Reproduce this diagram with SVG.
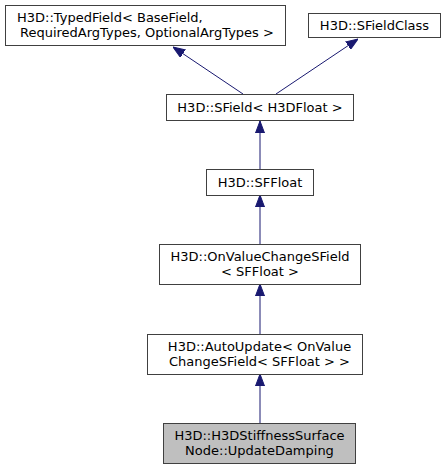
<svg xmlns="http://www.w3.org/2000/svg" width="445" height="469" viewBox="0 0 445 469">
<style>
.box{fill:#ffffff;stroke:#404040;stroke-width:1}
.root{fill:#bfbfbf;stroke:#404040;stroke-width:1}
text{font-family:"DejaVu Sans",sans-serif;font-size:13px;fill:#000000}
.c{text-anchor:middle}
.edge{stroke:#191970;stroke-width:1;fill:none}
</style>
<defs>
<marker id="ah" markerUnits="userSpaceOnUse" markerWidth="12" markerHeight="10" refX="12" refY="5" orient="auto">
<path d="M0,0.5 L12,5 L0,9.5 z" fill="#191970" stroke="#191970" stroke-width="1"/>
</marker>
</defs>
<rect width="445" height="469" fill="#ffffff"/>
<g id="connectors">
<path class="edge" d="M243,94 L173,47" marker-end="url(#ah)"/>
<path class="edge" d="M276,94 L358,39" marker-end="url(#ah)"/>
<path class="edge" d="M260,169 L260,121" marker-end="url(#ah)"/>
<path class="edge" d="M260,244 L260,195" marker-end="url(#ah)"/>
<path class="edge" d="M260,334 L260,284" marker-end="url(#ah)"/>
<path class="edge" d="M260,423 L260,374" marker-end="url(#ah)"/>
</g>
<g id="node-typedfield">
<rect class="box" x="5.5" y="5.5" width="280" height="40"/>
<text x="17" y="22">H3D::TypedField&lt; BaseField,</text>
<text x="20" y="37">RequiredArgTypes, OptionalArgTypes &gt;</text>
</g>
<g id="node-sfieldclass">
<rect class="box" x="308.5" y="13.5" width="132" height="24"/>
<text class="c" x="374.5" y="29.5">H3D::SFieldClass</text>
</g>
<g id="node-sfield">
<rect class="box" x="166.5" y="94.5" width="187" height="26"/>
<text class="c" x="260" y="111.5">H3D::SField&lt; H3DFloat &gt;</text>
</g>
<g id="node-sffloat">
<rect class="box" x="206.5" y="169.5" width="107" height="26"/>
<text class="c" x="260" y="186.5">H3D::SFFloat</text>
</g>
<g id="node-onvaluechange">
<rect class="box" x="159.5" y="244.5" width="201" height="40"/>
<text class="c" x="260" y="260.5">H3D::OnValueChangeSField</text>
<text class="c" x="260" y="275.5">&lt; SFFloat &gt;</text>
</g>
<g id="node-autoupdate">
<rect class="box" x="147.5" y="334.5" width="215" height="40"/>
<text class="c" x="259.5" y="350.5">H3D::AutoUpdate&lt; OnValue</text>
<text class="c" x="259.5" y="365.5">ChangeSField&lt; SFFloat &gt; &gt;</text>
</g>
<g id="node-updatedamping">
<rect class="root" x="163.5" y="423.5" width="192" height="40"/>
<text class="c" x="259.5" y="439.5">H3D::H3DStiffnessSurface</text>
<text class="c" x="259.5" y="454.5">Node::UpdateDamping</text>
</g>
</svg>
